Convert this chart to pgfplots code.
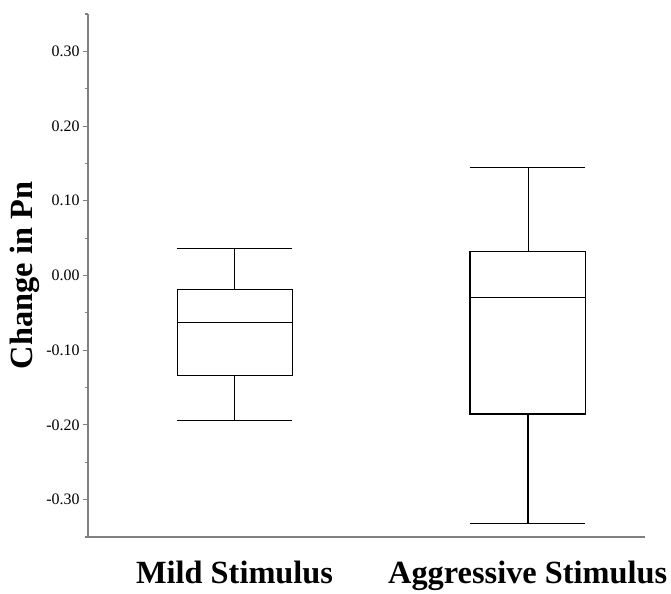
\documentclass[border=0pt]{standalone}
\usepackage{fontspec}
\setmainfont{Liberation Serif}
\usepackage{pgfplots}
\pgfplotsset{compat=1.18}

% box edges: centre +/- 0.197
\begin{document}
\begin{tikzpicture}
\begin{axis}[
    scale only axis,
    width=557bp, height=523bp,
    xmin=0.5, xmax=2.40,
    ymin=-0.35, ymax=0.35,
    axis x line=bottom, axis y line=left,
    axis line style={-, draw=gray, line width=1.1pt},
    xtick={1,2},
    xticklabels={Mild Stimulus, Aggressive Stimulus},
    major x tick style={draw=none},
    x tick label style={font=\fontsize{32.5}{36}\selectfont\bfseries, yshift=-16bp},
    ytick={-0.3,-0.2,-0.1,0,0.1,0.2,0.3},
    minor ytick={-0.35,-0.25,-0.15,-0.05,0.05,0.15,0.25,0.35},
    tick align=outside,
    major tick length=5bp, minor tick length=3bp,
    y tick style={draw=gray, line width=1.1pt},
    y tick label style={font=\fontsize{16}{19}\selectfont,
        /pgf/number format/fixed,
        /pgf/number format/fixed zerofill,
        /pgf/number format/precision=2,
        /pgf/number format/assume math mode=true},
    ylabel={Change in Pn},
    ylabel style={font=\fontsize{32.5}{36}\selectfont\bfseries},
    cycle list={{black, solid, line width=1.7pt, mark=none}},
]
% Mild Stimulus: whiskers -0.194 / 0.037, quartiles -0.133 / -0.018, median -0.063
\addplot+[line join=miter] coordinates {(0.803,-0.133) (1.197,-0.133) (1.197,-0.018) (0.803,-0.018)} -- cycle;
\addplot coordinates {(0.803,-0.063) (1.197,-0.063)};
\addplot coordinates {(1,-0.018) (1,0.037)};
\addplot coordinates {(0.803,0.037) (1.197,0.037)};
\addplot coordinates {(1,-0.133) (1,-0.194)};
\addplot coordinates {(0.803,-0.194) (1.197,-0.194)};
% Aggressive Stimulus: whiskers -0.331 / 0.145, quartiles -0.185 / 0.032, median -0.029
\addplot+[line join=miter] coordinates {(1.803,-0.185) (2.197,-0.185) (2.197,0.032) (1.803,0.032)} -- cycle;
\addplot coordinates {(1.803,-0.029) (2.197,-0.029)};
\addplot coordinates {(2,0.032) (2,0.145)};
\addplot coordinates {(1.803,0.145) (2.197,0.145)};
\addplot coordinates {(2,-0.185) (2,-0.331)};
\addplot coordinates {(1.803,-0.331) (2.197,-0.331)};
\end{axis}
\pgfresetboundingbox
\path[use as bounding box] ([shift={(-88bp,-57bp)}]current axis.south west)
    rectangle ([shift={(26bp,14bp)}]current axis.north east);
\end{tikzpicture}
\end{document}
